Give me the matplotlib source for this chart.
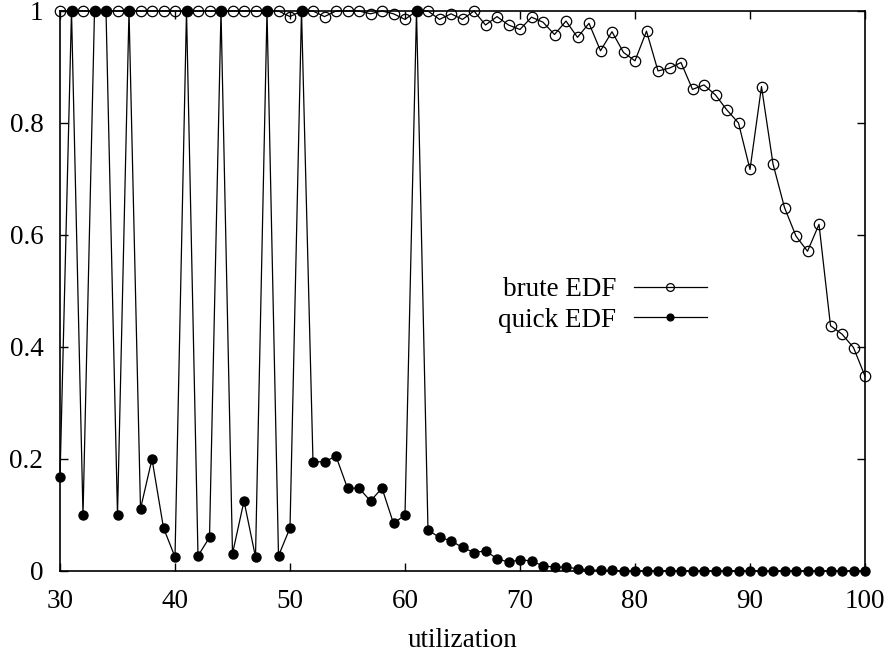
import matplotlib
matplotlib.use("Agg")
import matplotlib.pyplot as plt

util = [30, 31, 32, 33, 34, 35, 36, 37, 38, 39,
        40, 41, 42, 43, 44, 45, 46, 47, 48, 49,
        50, 51, 52, 53, 54, 55, 56, 57, 58, 59,
        60, 61, 62, 63, 64, 65, 66, 67, 68, 69,
        70, 71, 72, 73, 74, 75, 76, 77, 78, 79,
        80, 81, 82, 83, 84, 85, 86, 87, 88, 89,
        90, 91, 92, 93, 94, 95, 96, 97, 98, 99, 100]

brute_edf = [1, 1, 1, 1, 1, 1, 1, 1, 1, 1,
             1, 1, 1, 1, 1, 1, 1, 1, 1, 1,
             0.99, 1, 1, 0.99, 1, 1, 1, 0.995, 1, 0.995,
             0.985, 1, 1, 0.985, 0.995, 0.985, 1, 0.975, 0.99, 0.975,
             0.967, 0.989, 0.98, 0.958, 0.982, 0.953, 0.978, 0.929, 0.963, 0.926,
             0.911, 0.964, 0.893, 0.898, 0.908, 0.86, 0.868, 0.85, 0.823, 0.80,
             0.717, 0.865, 0.727, 0.649, 0.598, 0.571, 0.619, 0.438, 0.423, 0.399, 0.348]

quick_edf = [0.167, 1, 0.1, 1, 1, 0.1, 1, 0.111, 0.2, 0.077,
             0.025, 1, 0.027, 0.06, 1, 0.031, 0.125, 0.025, 1, 0.027,
             0.077, 1, 0.195, 0.195, 0.205, 0.148, 0.148, 0.125, 0.148, 0.085,
             0.1, 1, 0.073, 0.06, 0.054, 0.042, 0.033, 0.036, 0.022, 0.016,
             0.02, 0.018, 0.009, 0.007, 0.007, 0.004, 0.002, 0.001, 0.001, 0,
             0, 0, 0, 0, 0, 0, 0, 0, 0, 0,
             0, 0, 0, 0, 0, 0, 0, 0, 0, 0, 0]

xticks = [30, 40, 50, 60, 70, 80, 90, 100]
yticks = [0, 0.2, 0.4, 0.6, 0.8, 1]
yticklabels = ["0", "0.2", "0.4", "0.6", "0.8", "1"]

plt.rcParams["font.family"] = ["Liberation Serif", "DejaVu Serif"]
plt.rcParams["font.size"] = 19.5

fig = plt.figure(figsize=(8.91, 6.53), dpi=100)
ax = fig.add_axes([60 / 891, 82 / 653, 805 / 891, 560 / 653])

ax.plot(util, brute_edf, '-', color='black', lw=0.9, marker='o', ms=7.5,
        mfc='none', mec='black', mew=0.9, clip_on=False, label='brute EDF', zorder=3)
ax.plot(util, quick_edf, '-', color='black', lw=0.9, marker='o', ms=6.5,
        mfc='black', mec='black', clip_on=False, label='quick EDF', zorder=4)

ax.set_xlim(30, 100)
ax.set_ylim(0, 1)
ax.set_xticks(xticks)
ax.set_yticks(yticks)
ax.set_yticklabels(yticklabels)
ax.tick_params(direction='in', length=6, width=1, top=True, right=True)
ax.tick_params(axis='x', pad=13)
ax.tick_params(axis='y', pad=12)
for s in ax.spines.values():
    s.set_linewidth(1.2)
ax.set_xlabel("utilization", labelpad=10)

ax.legend(loc='center right', bbox_to_anchor=(647 / 805, 266 / 560), frameon=False,
          markerfirst=False, handlelength=2.7, handletextpad=0.65, labelspacing=0.2,
          borderpad=0, borderaxespad=0, markerscale=0.75)

fig.savefig("out.png", dpi=100)
